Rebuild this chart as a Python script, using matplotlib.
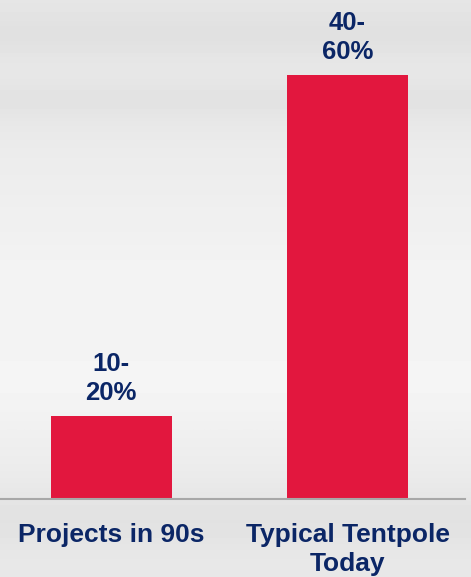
import matplotlib.pyplot as plt
import numpy as np

categories = ["Projects in 90s", "Typical Tentpole\nToday"]
values = [10, 51]
value_labels = ["10-\n20%", "40-\n60%"]

red = "#e2173e"
navy = "#0b2666"

plt.rcParams['font.family'] = ['Liberation Sans', 'DejaVu Sans']

fig = plt.figure(figsize=(4.71, 5.77), dpi=100)

# soft grey banded backdrop
bg = fig.add_axes([0, 0, 1, 1])
shade = np.array([0.90, 0.87, 0.90, 0.91, 0.88, 0.91, 0.92, 0.93, 0.93, 0.94,
                  0.94, 0.95, 0.95, 0.95, 0.96, 0.95, 0.96, 0.96, 0.95, 0.94,
                  0.93, 0.92, 0.90, 0.88, 0.90, 0.91])
bg.imshow(np.repeat(shade[:, None], 4, axis=1), cmap="gray", vmin=0, vmax=1,
          aspect="auto", interpolation="bicubic", extent=[0, 1, 0, 1])
bg.axis("off")

ax = fig.add_axes([0, 78 / 577, 465 / 471, 499 / 577])
ax.patch.set_alpha(0)
x = np.arange(len(categories))
bars = ax.bar(x, values, width=0.512, color=red)

for b, lab in zip(bars, value_labels):
    ax.annotate(lab, (b.get_x() + b.get_width() / 2, b.get_height()),
                xytext=(0, 8), textcoords="offset points", ha="center", va="bottom",
                fontsize=18.5, fontweight="bold", color=navy, linespacing=1.25)

ax.set_xlim(-0.471, 1.497)
ax.set_ylim(0, 60)
ax.set_xticks(x)
ax.set_xticklabels(categories, fontsize=19, fontweight="bold", color=navy, linespacing=1.3)
ax.tick_params(axis="x", length=0, pad=17)
ax.set_yticks([])
for s in ["top", "left", "right"]:
    ax.spines[s].set_visible(False)
ax.spines["bottom"].set_color("#a8a8a8")
ax.spines["bottom"].set_linewidth(1.5)

fig.savefig("out.png", dpi=100)
